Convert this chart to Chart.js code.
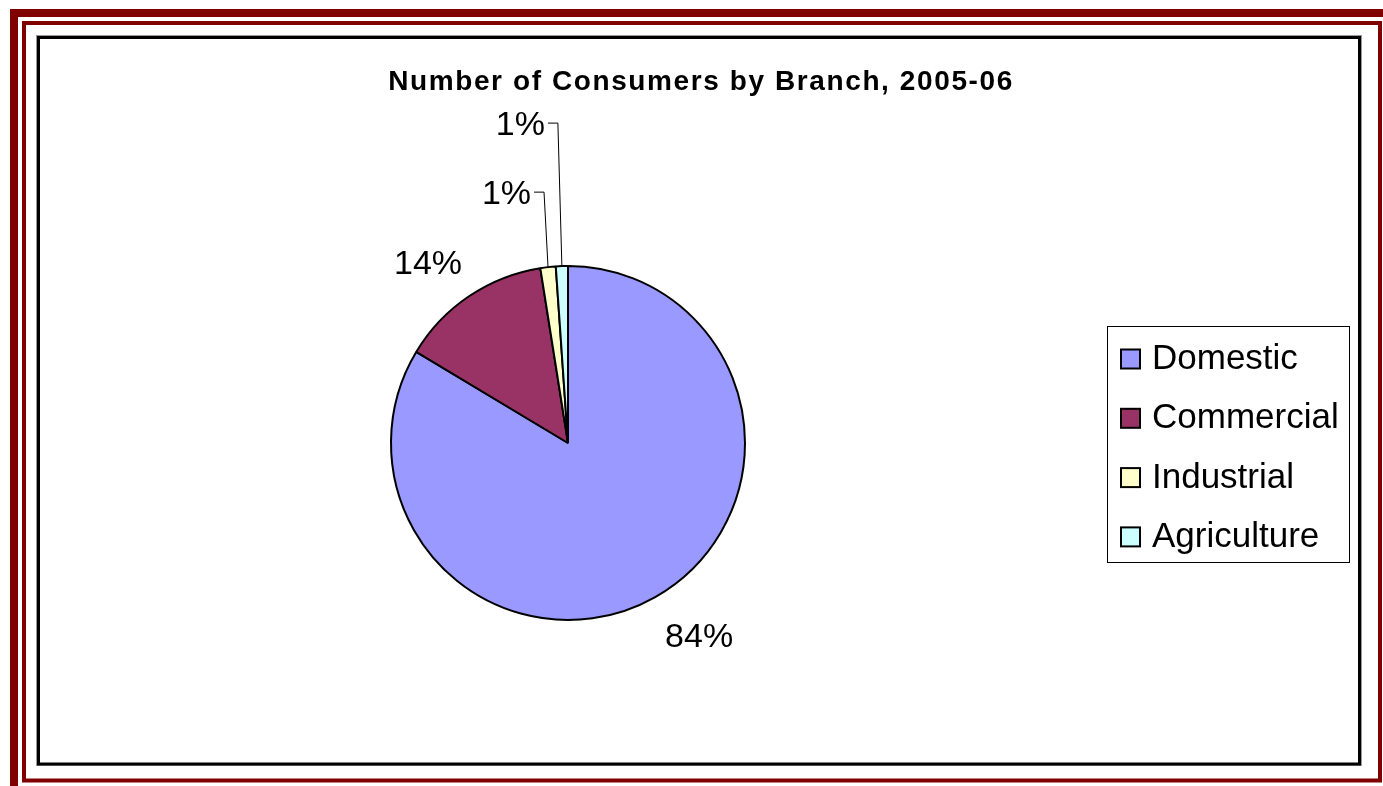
<!DOCTYPE html>
<html>
<head>
<meta charset="utf-8">
<script src="https://cdn.jsdelivr.net/npm/chart.js@4"></script>
<style>
  html, body { margin: 0; padding: 0; background: #fff; }
  #wrap { width: 1383px; height: 786px; }
</style>
</head>
<body>
<div id="wrap"><canvas id="pie" width="1383" height="786"></canvas></div>
<script>
// chart data
const chartTitle = 'Number of Consumers by Branch, 2005-06';
const categories = ['Domestic', 'Commercial', 'Industrial', 'Agriculture'];
const shares = [83.6, 13.9, 1.4, 1.1];
const sliceColors = ['#9999FF', '#993366', '#FFFFCC', '#CCFFFF'];
// labels dragged above the pie (px above the slice edge), 0 = normal spot
const labelLift = [0, 0, 75, 143];

const FONT = '"Liberation Sans", Arial, sans-serif';

// ---------------------------
// Frame: red double border + black plot box
// ---------------------------
const framePlugin = {
  id: 'frame',
  beforeDraw(chart) {
    const ctx = chart.ctx;
    ctx.save();
    ctx.fillStyle = '#fff';
    ctx.fillRect(0, 0, chart.width, chart.height);
    ctx.strokeStyle = '#800000';
    ctx.lineWidth = 8;
    ctx.strokeRect(14, 13, 1400, 800);
    ctx.lineWidth = 4;
    ctx.strokeRect(24, 23, 1356, 757.5);
    ctx.strokeStyle = '#999';
    ctx.lineWidth = 1;
    ctx.strokeRect(36.5, 35.5, 1325, 730);
    ctx.strokeStyle = '#000';
    ctx.lineWidth = 3;
    ctx.strokeRect(38.5, 37.5, 1321, 726.5);
    ctx.restore();
  }
};

// ---------------------------
// Title, percent labels, legend
// ---------------------------
const decorPlugin = {
  id: 'decor',
  afterDraw(chart) {
    const ctx = chart.ctx;
    const meta = chart.getDatasetMeta(0);
    const total = shares.reduce((a, b) => a + b, 0);
    ctx.save();

    // title
    ctx.fillStyle = '#000';
    ctx.font = 'bold 28px ' + FONT;
    ctx.letterSpacing = '1.6px';
    ctx.textAlign = 'center';
    ctx.textBaseline = 'alphabetic';
    ctx.fillText(chartTitle, 701, 90);
    ctx.letterSpacing = '0px';

    // percent labels
    ctx.font = '34px ' + FONT;
    ctx.textBaseline = 'alphabetic';
    meta.data.forEach((arc, i) => {
      const mid = (arc.startAngle + arc.endAngle) / 2;
      const r = arc.outerRadius;
      const cos = Math.cos(mid), sin = Math.sin(mid);
      const txt = Math.round(shares[i] / total * 100) + '%';
      if (!labelLift[i]) {
        const gap = 16;
        const ax = arc.x + cos * (r + gap);
        const ay = arc.y + sin * (r + gap);
        ctx.textAlign = cos >= 0 ? 'left' : 'right';
        ctx.fillText(txt, ax + 2, sin >= 0 ? ay + 36 : ay - 9);
      } else {
        // leader line: up from the slice edge, then left to the label
        const ex = arc.x + cos * r;
        const ey = arc.y + sin * r;
        const ly = ey - labelLift[i];
        ctx.strokeStyle = '#000';
        ctx.lineWidth = 1;
        ctx.beginPath();
        ctx.moveTo(ex, ey);
        ctx.lineTo(ex - 4, ly);
        ctx.lineTo(ex - 14, ly);
        ctx.stroke();
        ctx.textAlign = 'right';
        ctx.fillText(txt, ex - 17, ly + 12);
      }
    });

    // legend
    const lx = 1107, ly = 326, lw = 242, lh = 236;
    ctx.strokeStyle = '#000';
    ctx.lineWidth = 1;
    ctx.strokeRect(lx + 0.5, ly + 0.5, lw, lh);
    ctx.font = '35px ' + FONT;
    ctx.textAlign = 'left';
    ctx.textBaseline = 'alphabetic';
    categories.forEach((name, i) => {
      const cy = 359 + i * 59.3;
      ctx.fillStyle = sliceColors[i];
      ctx.fillRect(1121, cy - 9.5, 19, 19);
      ctx.lineWidth = 2;
      ctx.strokeStyle = '#000';
      ctx.strokeRect(1121, cy - 9.5, 19, 19);
      ctx.fillStyle = '#000';
      ctx.fillText(name, 1152, cy + 10);
    });

    ctx.restore();
  }
};

const ctx = document.getElementById('pie').getContext('2d');
const chart = new Chart(ctx, {
  type: 'pie',
  data: {
    labels: categories,
    datasets: [{
      data: shares,
      backgroundColor: sliceColors,
      borderColor: '#000',
      borderWidth: 2,
      borderAlign: 'center'
    }]
  },
  options: {
    responsive: false,
    animation: false,
    devicePixelRatio: 1,
    radius: 177,
    layout: { padding: { left: 390, top: 265, right: 637, bottom: 165 } },
    plugins: {
      legend: { display: false },
      tooltip: { enabled: false }
    }
  },
  plugins: [framePlugin, decorPlugin]
});
</script>
</body>
</html>
